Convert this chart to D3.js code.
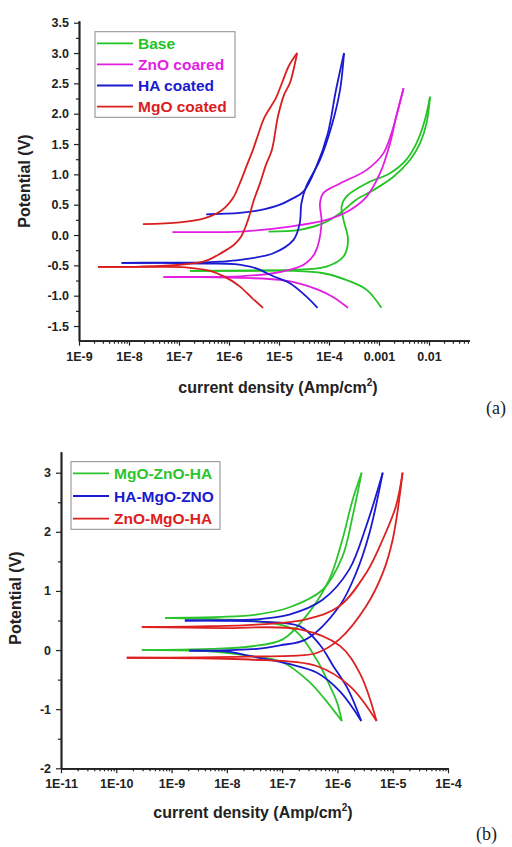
<!DOCTYPE html>
<html><head><meta charset="utf-8">
<script src="https://cdn.jsdelivr.net/npm/d3@7"></script>
<style>body{margin:0;background:#fff}svg{display:block}</style>
</head><body>
<svg id="c" width="512" height="847"></svg>
<script>
// ---------- DATA : panel (a) ----------  [current (A/cm2), potential (V)]
const namesA = ["Base", "ZnO coared", "HA coated", "MgO coated"];
const colorsA = ["#22c322", "#e21ee2", "#1a1ad0", "#d91e1e"];
const baseFwd = [[1.12e-3,-1.2],[5.6e-4,-0.90],[2.2e-4,-0.74],[7.7e-5,-0.63],[1.66e-5,-0.59],[2.6e-6,-0.59],[1.66e-7,-0.59],
  [2.6e-6,-0.585],[1.66e-5,-0.575],[8.9e-5,-0.52],[1.95e-4,-0.355],[2.4e-4,-0.08],[1.95e-4,0.25],[1.78e-4,0.47],[2.2e-4,0.63],
  [5.6e-4,0.85],[1.66e-3,1.02],[3.5e-3,1.24],[5.6e-3,1.51],[8.3e-3,1.90],[1.05e-2,2.28]];
const baseRev = [[1.05e-2,2.28],[8.9e-3,1.84],[6.6e-3,1.51],[4.2e-3,1.24],[1.95e-3,0.96],[7.7e-4,0.74],[3.5e-4,0.58],
  [1.66e-4,0.36],[7.7e-5,0.195],[2.6e-5,0.085],[6.2e-6,0.057]];
const zncFwd = [[2.4e-4,-1.2],[1.2e-4,-1.02],[6.0e-5,-0.90],[2.6e-5,-0.80],[1.05e-5,-0.74],[2.6e-6,-0.71],[2.6e-7,-0.695],[4.9e-8,-0.695],
  [2.6e-7,-0.69],[1.66e-6,-0.68],[7.7e-6,-0.63],[1.66e-5,-0.57],[3.1e-5,-0.49],[5.2e-5,-0.30],[7.1e-5,0.195],[6.6e-5,0.52],
  [7.7e-5,0.69],[1.66e-4,0.85],[5.6e-4,1.07],[1.23e-3,1.35],[1.78e-3,1.68],[2.4e-3,2.06],[3.1e-3,2.42]];
const zncRev = [[3.1e-3,2.42],[2.2e-3,1.95],[1.66e-3,1.51],[1.05e-3,1.02],[5.6e-4,0.63],[2.6e-4,0.41],[8.9e-5,0.25],
  [1.66e-5,0.14],[1.66e-6,0.057],[2.6e-7,0.047],[7.4e-8,0.047]];
const haFwd = [[5.9e-5,-1.2],[3.5e-5,-1.01],[1.62e-5,-0.79],[7.7e-6,-0.68],[3.5e-6,-0.55],[1.32e-6,-0.48],[2.6e-7,-0.47],[4.2e-8,-0.46],[7.1e-9,-0.46],
  [4.2e-8,-0.455],[2.6e-7,-0.455],[6.6e-7,-0.44],[1.66e-6,-0.41],[7.7e-6,-0.30],[1.95e-5,-0.08],[2.6e-5,0.195],[2.8e-5,0.52],
  [3.5e-5,0.80],[6.6e-5,1.24],[1.12e-4,1.79],[1.66e-4,2.39],[2.0e-4,3.0]];
const haRev = [[2.0e-4,3.0],[1.38e-4,2.39],[9.5e-5,1.68],[5.6e-5,1.13],[3.1e-5,0.72],[1.66e-5,0.58],[1.05e-5,0.50],
  [4.2e-6,0.41],[1.66e-6,0.365],[6.6e-7,0.35],[3.5e-7,0.34]];
const mgoFwd = [[4.8e-6,-1.2],[2.9e-6,-1.04],[1.66e-6,-0.85],[8.3e-7,-0.69],[4.2e-7,-0.59],[1.66e-7,-0.54],[4.2e-8,-0.525],[6.6e-9,-0.525],[2.4e-9,-0.525],
  [1.66e-8,-0.52],[1.05e-7,-0.49],[3.3e-7,-0.43],[7.2e-7,-0.29],[1.26e-6,-0.16],[1.74e-6,-0.03],[2.4e-6,0.25],[3.16e-6,0.58],
  [4.2e-6,0.86],[5.5e-6,1.16],[7.2e-6,1.40],[9.5e-6,1.95],[1.26e-5,2.31],[1.66e-5,2.51],[2.1e-5,2.84],[2.3e-5,3.0]];
const mgoRev = [[2.3e-5,3.0],[1.58e-5,2.79],[1.15e-5,2.51],[8.7e-6,2.26],[5.2e-6,1.95],[3.8e-6,1.65],[3.0e-6,1.40],[2.3e-6,1.16],
  [1.66e-6,0.86],[1.2e-6,0.61],[7.2e-7,0.41],[3.3e-7,0.28],[1.05e-7,0.21],[1.9e-8,0.18]];
const xTicksA = [1e-9,1e-8,1e-7,1e-6,1e-5,1e-4,1e-3,1e-2];
const xLabelsA = ["1E-9","1E-8","1E-7","1E-6","1E-5","1E-4","0.001","0.01"];
const yTicksA = [-1.5,-1.0,-0.5,0.0,0.5,1.0,1.5,2.0,2.5,3.0,3.5];

// ---------- DATA : panel (b) ----------
const namesB = ["MgO-ZnO-HA", "HA-MgO-ZNO", "ZnO-MgO-HA"];
const colorsB = ["#2cc42c", "#1a1ad0", "#dd2020"];
const mzhFwd = [[1.2e-6,-1.2],[5.9e-7,-0.83],[3.2e-7,-0.55],[1.04e-7,-0.21],[2.6e-8,-0.10],[4.9e-9,-0.02],[2.9e-10,0.0],
  [4.9e-9,0.02],[2.6e-8,0.06],[1.02e-7,0.18],[2.7e-7,0.57],[7.1e-7,1.19],[1.23e-6,1.87],[1.88e-6,2.54],[2.74e-6,3.0]];
const mzhRev = [[2.74e-6,3.0],[1.88e-6,2.26],[1.23e-6,1.58],[5.4e-7,1.02],[1.33e-7,0.72],[3.4e-8,0.60],[7.5e-9,0.56],[7.6e-10,0.545],
  [7.5e-9,0.52],[4.0e-8,0.48],[1.59e-7,0.35],[4.2e-7,-0.16],[7.3e-7,-0.61],[9.8e-7,-0.88],[1.2e-6,-1.2]];
const hmzFwd = [[2.7e-6,-1.2],[1.11e-6,-0.70],[4.2e-7,-0.38],[1.39e-7,-0.24],[2.6e-8,-0.10],[1.14e-8,-0.03],[2.1e-9,-0.01],
  [1.14e-8,0.0],[3.5e-8,0.02],[9.1e-8,0.08],[2.7e-7,0.18],[1.08e-6,0.74],[2.17e-6,1.30],[3.8e-6,1.98],[6.6e-6,3.0]];
const hmzRev = [[6.6e-6,3.0],[3.3e-6,2.09],[1.63e-6,1.36],[5.4e-7,0.85],[1.35e-7,0.60],[3.4e-8,0.52],[7.5e-9,0.505],[1.74e-9,0.50],
  [7.5e-9,0.495],[4.0e-8,0.48],[2.1e-7,0.40],[4.8e-7,0.09],[8.4e-7,-0.27],[1.55e-6,-0.66],[2.7e-6,-1.2]];
const zmhFwd = [[5.1e-6,-1.2],[1.68e-6,-0.61],[4.2e-7,-0.27],[2.6e-8,-0.16],[3.3e-9,-0.14],[1.55e-10,-0.13],
  [3.3e-9,-0.125],[2.6e-8,-0.11],[2.1e-7,-0.09],[4.2e-7,-0.05],[1.08e-6,0.18],[3.3e-6,0.74],[6.6e-6,1.30],[1.0e-5,1.87],[1.51e-5,3.0]];
const zmhRev = [[1.51e-5,3.0],[1.14e-5,2.43],[6.6e-6,1.87],[3.3e-6,1.30],[1.08e-6,0.74],[2.7e-7,0.52],[3.4e-8,0.43],[3.3e-9,0.40],[2.9e-10,0.39],
  [7.5e-9,0.37],[2.1e-7,0.35],[1.11e-6,0.07],[2.6e-6,-0.41],[5.1e-6,-1.2]];
const xTicksB = [1e-11,1e-10,1e-9,1e-8,1e-7,1e-6,1e-5,1e-4];
const xLabelsB = ["1E-11","1E-10","1E-9","1E-8","1E-7","1E-6","1E-5","1E-4"];
const yTicksB = [-2,-1,0,1,2,3];

// ---------- DRAWING ----------
const svg = d3.select("#c");
const FONT = "'Liberation Sans', Arial, Helvetica, sans-serif";

function splitAtMin(arr) {
  let mi = 0;
  arr.forEach((d, i) => { if (d[0] < arr[mi][0]) mi = i; });
  const parts = [];
  if (mi > 0) parts.push(arr.slice(0, mi + 1));
  if (mi < arr.length - 1) parts.push(arr.slice(mi));
  return parts;
}

function drawPanel(cfg) {
  const x = d3.scaleLog().domain(cfg.xDomain).range(cfg.xRange);
  const y = d3.scaleLinear().domain(cfg.yDomain).range(cfg.yRange);
  const g = svg.append("g");

  const xMinor = [];
  for (let e = Math.round(Math.log10(cfg.xDomain[0])); e < Math.log10(cfg.xDomain[1]); e++)
    for (let m = 2; m <= 9; m++) { const v = m * Math.pow(10, e); if (v <= cfg.xDomain[1] * 1.0001) xMinor.push(v); }
  const yMinor = [];
  for (let i = 0; i < cfg.yTicks.length - 1; i++) yMinor.push((cfg.yTicks[i] + cfg.yTicks[i + 1]) / 2);

  const y0 = cfg.yRange[0], x0 = cfg.xRange[0];
  const gx = g.append("g").attr("transform", `translate(0,${y0})`);
  gx.call(d3.axisBottom(x).tickValues(xMinor).tickSize(3).tickFormat("").tickSizeOuter(0));
  gx.append("g").call(d3.axisBottom(x).tickValues(cfg.xTicks).tickSize(5).tickPadding(6).tickSizeOuter(0)
      .tickFormat((d, i) => cfg.xLabels[i]));
  const gy = g.append("g").attr("transform", `translate(${x0},0)`);
  gy.call(d3.axisLeft(y).tickValues(yMinor).tickSize(3).tickFormat("").tickSizeOuter(0));
  gy.append("g").call(d3.axisLeft(y).tickValues(cfg.yTicks).tickSize(5).tickPadding(5).tickSizeOuter(0)
      .tickFormat(cfg.yFmt));
  g.selectAll(".domain").attr("stroke", "#222").attr("stroke-width", 1.7);
  g.selectAll(".tick line").attr("stroke", "#222").attr("stroke-width", 1.2);
  g.selectAll(".tick text").attr("font-family", FONT).attr("font-weight", "bold")
    .attr("font-size", 12.5).attr("fill", "#222");

  const line = d3.line().x(d => x(d[0])).y(d => y(d[1])).curve(d3.curveCatmullRom.alpha(0.5));
  cfg.series.forEach(s => {
    [s.fwd, s.rev].forEach(arr => {
      splitAtMin(arr).forEach(part => {
        g.append("path").attr("d", line(part)).attr("fill", "none")
          .attr("stroke", s.color).attr("stroke-width", 1.8).attr("stroke-linejoin", "round");
      });
    });
  });

  g.append("text").attr("transform", `translate(${cfg.yTitle[0]},${cfg.yTitle[1]}) rotate(-90)`)
    .attr("text-anchor", "middle").attr("font-family", FONT).attr("font-weight", "bold")
    .attr("font-size", 16).attr("fill", "#222").text("Potential (V)");
  const xt = g.append("text").attr("x", cfg.xTitle[0]).attr("y", cfg.xTitle[1])
    .attr("text-anchor", "middle").attr("font-family", FONT).attr("font-weight", "bold")
    .attr("font-size", 16).attr("fill", "#222");
  xt.append("tspan").text("current density (Amp/cm");
  xt.append("tspan").attr("font-size", 10).attr("dy", -7).text("2");
  xt.append("tspan").attr("dy", 7).text(")");

  const L = cfg.legend;
  g.append("rect").attr("x", L.x).attr("y", L.y).attr("width", L.w).attr("height", L.h)
    .attr("fill", "none").attr("stroke", "#8a8a8a").attr("stroke-width", 1);
  cfg.series.forEach((s, i) => {
    const yy = L.y0 + i * L.dy;
    g.append("line").attr("x1", L.x + 2).attr("x2", L.x + 38).attr("y1", yy).attr("y2", yy)
      .attr("stroke", s.color).attr("stroke-width", 1.8);
    g.append("text").attr("x", L.x + 43).attr("y", yy + 5.5).attr("font-family", FONT)
      .attr("font-weight", "bold").attr("font-size", 15.5).attr("fill", s.color).text(s.name);
  });

  svg.append("text").attr("x", cfg.tag[0]).attr("y", cfg.tag[1]).attr("font-family", "'Liberation Serif', 'DejaVu Serif', serif")
    .attr("font-size", 18).attr("fill", "#222").text(cfg.tag[2]);
}

drawPanel({
  xDomain: [1e-9, Math.pow(10, -1.194)], xRange: [79, 469.3],
  yDomain: [-1.742, 3.533], yRange: [340.7, 20.7],
  xTicks: xTicksA, xLabels: xLabelsA, yTicks: yTicksA, yFmt: d => d.toFixed(1),
  series: [
    {name: namesA[0], color: colorsA[0], fwd: baseFwd, rev: baseRev},
    {name: namesA[1], color: colorsA[1], fwd: zncFwd, rev: zncRev},
    {name: namesA[2], color: colorsA[2], fwd: haFwd, rev: haRev},
    {name: namesA[3], color: colorsA[3], fwd: mgoFwd, rev: mgoRev}
  ],
  yTitle: [30, 181], xTitle: [278, 393],
  legend: {x: 95, y: 31.7, w: 140, h: 85.6, y0: 43.3, dy: 21.1},
  tag: [486, 414, "(a)"]
});

drawPanel({
  xDomain: [1e-11, 1e-4], xRange: [61, 448],
  yDomain: [-2, 3.355], yRange: [768.3, 451.7],
  xTicks: xTicksB, xLabels: xLabelsB, yTicks: yTicksB, yFmt: d => String(d),
  series: [
    {name: namesB[0], color: colorsB[0], fwd: mzhFwd, rev: mzhRev},
    {name: namesB[1], color: colorsB[1], fwd: hmzFwd, rev: hmzRev},
    {name: namesB[2], color: colorsB[2], fwd: zmhFwd, rev: zmhRev}
  ],
  yTitle: [21, 598], xTitle: [253, 818],
  legend: {x: 71, y: 461.7, w: 149, h: 67.6, y0: 473.3, dy: 22.7},
  tag: [476, 840, "(b)"]
});
</script>
</body></html>
